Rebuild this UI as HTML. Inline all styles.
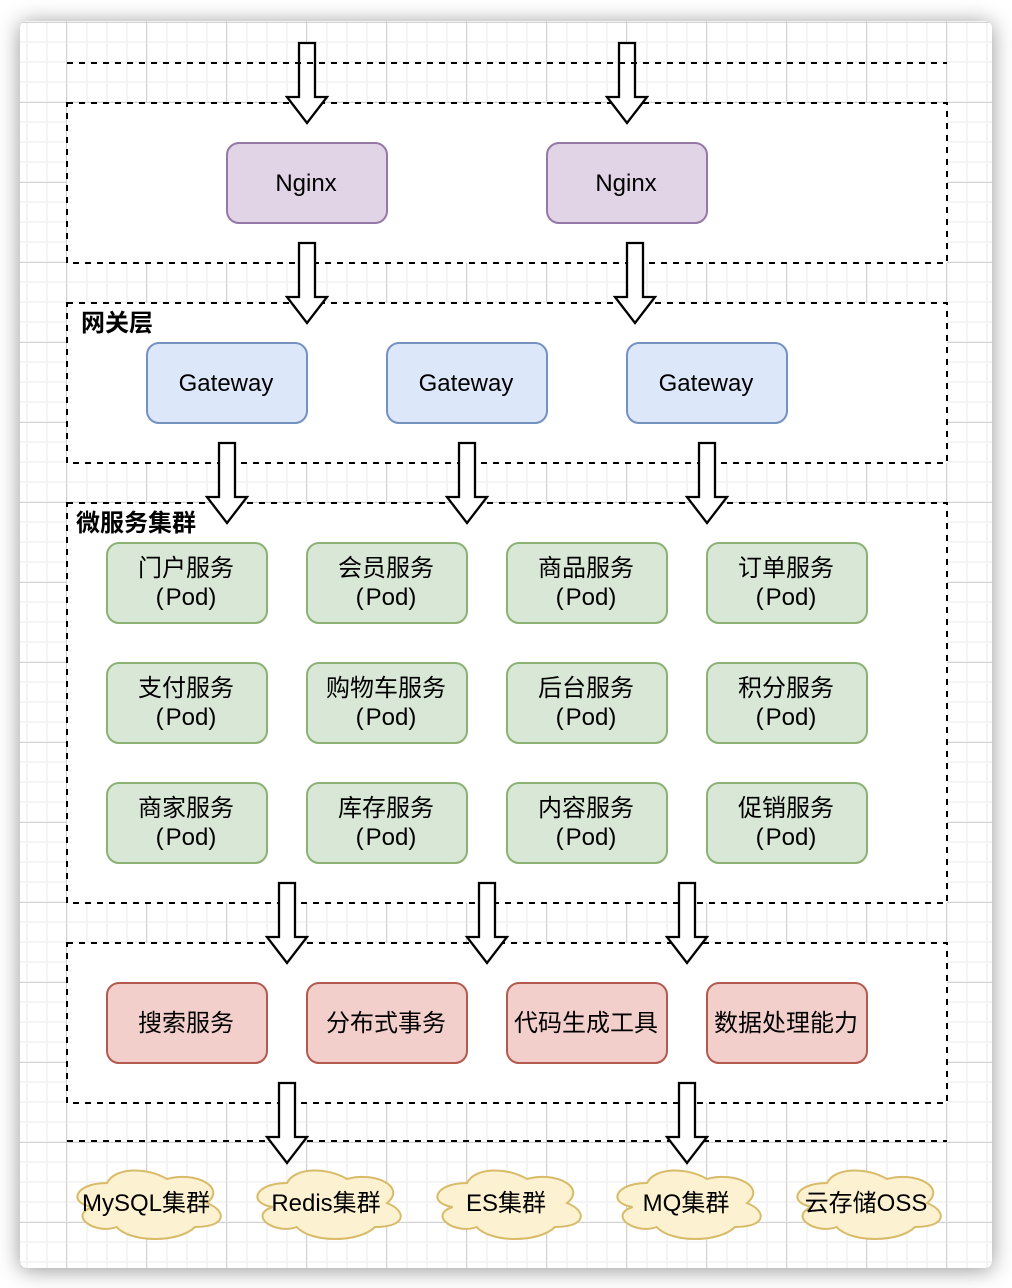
<!DOCTYPE html>
<html>
<head>
<meta charset="utf-8">
<style>
html,body{margin:0;padding:0;background:#fff;width:1012px;height:1288px;overflow:hidden}
#canvas{position:absolute;left:20px;top:21px;width:972px;height:1247px;border-radius:7px;background-color:#fff;
box-shadow:0 2px 22px rgba(0,0,0,.42);
background-image:
linear-gradient(to right,#d2d2d2 1px,transparent 1px),
linear-gradient(to bottom,#d2d2d2 1px,transparent 1px),
linear-gradient(to right,#f4f4f4 2px,transparent 2px),
linear-gradient(to bottom,#f4f4f4 2px,transparent 2px);
background-size:80px 80px,80px 80px,20px 20px,20px 20px;
background-position:46px 0,0 1px,6px 0,0 0;}
svg{position:absolute;left:0;top:0}
text{font-family:"Liberation Sans","Noto Sans CJK SC",sans-serif;font-size:24px;fill:#000;text-anchor:middle}
.c{fill:#fff;stroke:#000;stroke-width:2;stroke-dasharray:6 6}
.l{fill:none;stroke:#000;stroke-width:2;stroke-dasharray:6 6}
.a{fill:#fff;stroke:#000;stroke-width:2.3;stroke-miterlimit:10}
.p{fill:#e0d4e6;stroke:#9479a6;stroke-width:2}
.b{fill:#dce8fa;stroke:#7591c0;stroke-width:2}
.g{fill:#d9e7d6;stroke:#8bb174;stroke-width:2}
.r{fill:#f3cfcc;stroke:#b25a50;stroke-width:2}
.y{fill:#fcf1d0;stroke:#d8bb68;stroke-width:2}
.t{font-weight:bold;text-anchor:start}
</style>
</head>
<body>
<div id="canvas"></div>
<svg width="1012" height="1288" viewBox="0 0 1012 1288" xmlns="http://www.w3.org/2000/svg">
<defs>
<path id="arrow" d="M-8 0H8V54H20L0 80L-20 54H-8Z"/>
<path id="cloud" d="M40 20C8 20 0 40 25.6 44C0 52.8 28.8 72 49.6 64C64 80 112 80 128 64C160 64 160 48 140 40C160 24 128 8 100 16C80 4 48 4 40 20Z"/>
</defs>

<rect class="c" x="67" y="103" width="880" height="160"/>
<rect class="c" x="67" y="303" width="880" height="160"/>
<rect class="c" x="67" y="503" width="880" height="400"/>
<rect class="c" x="67" y="943" width="880" height="160"/>
<path class="l" d="M67 1141H947"/>

<rect class="p" x="227" y="143" width="160" height="80" rx="12"/><text x="306" y="191">Nginx</text>
<rect class="p" x="547" y="143" width="160" height="80" rx="12"/><text x="626" y="191">Nginx</text>

<text class="t" x="81" y="331">网关层</text>
<rect class="b" x="147" y="343" width="160" height="80" rx="12"/><text x="226" y="391">Gateway</text>
<rect class="b" x="387" y="343" width="160" height="80" rx="12"/><text x="466" y="391">Gateway</text>
<rect class="b" x="627" y="343" width="160" height="80" rx="12"/><text x="706" y="391">Gateway</text>

<text class="t" x="76" y="531">微服务集群</text>

<rect class="g" x="107" y="543" width="160" height="80" rx="12"/><text x="186" y="576">门户服务</text><text x="186" y="605">(<tspan dx="2">Pod</tspan>)</text>
<rect class="g" x="307" y="543" width="160" height="80" rx="12"/><text x="386" y="576">会员服务</text><text x="386" y="605">(<tspan dx="2">Pod</tspan>)</text>
<rect class="g" x="507" y="543" width="160" height="80" rx="12"/><text x="586" y="576">商品服务</text><text x="586" y="605">(<tspan dx="2">Pod</tspan>)</text>
<rect class="g" x="707" y="543" width="160" height="80" rx="12"/><text x="786" y="576">订单服务</text><text x="786" y="605">(<tspan dx="2">Pod</tspan>)</text>

<rect class="g" x="107" y="663" width="160" height="80" rx="12"/><text x="186" y="696">支付服务</text><text x="186" y="725">(<tspan dx="2">Pod</tspan>)</text>
<rect class="g" x="307" y="663" width="160" height="80" rx="12"/><text x="386" y="696">购物车服务</text><text x="386" y="725">(<tspan dx="2">Pod</tspan>)</text>
<rect class="g" x="507" y="663" width="160" height="80" rx="12"/><text x="586" y="696">后台服务</text><text x="586" y="725">(<tspan dx="2">Pod</tspan>)</text>
<rect class="g" x="707" y="663" width="160" height="80" rx="12"/><text x="786" y="696">积分服务</text><text x="786" y="725">(<tspan dx="2">Pod</tspan>)</text>

<rect class="g" x="107" y="783" width="160" height="80" rx="12"/><text x="186" y="816">商家服务</text><text x="186" y="845">(<tspan dx="2">Pod</tspan>)</text>
<rect class="g" x="307" y="783" width="160" height="80" rx="12"/><text x="386" y="816">库存服务</text><text x="386" y="845">(<tspan dx="2">Pod</tspan>)</text>
<rect class="g" x="507" y="783" width="160" height="80" rx="12"/><text x="586" y="816">内容服务</text><text x="586" y="845">(<tspan dx="2">Pod</tspan>)</text>
<rect class="g" x="707" y="783" width="160" height="80" rx="12"/><text x="786" y="816">促销服务</text><text x="786" y="845">(<tspan dx="2">Pod</tspan>)</text>

<rect class="r" x="107" y="983" width="160" height="80" rx="12"/><text x="186" y="1031">搜索服务</text>
<rect class="r" x="307" y="983" width="160" height="80" rx="12"/><text x="386" y="1031">分布式事务</text>
<rect class="r" x="507" y="983" width="160" height="80" rx="12"/><text x="586" y="1031">代码生成工具</text>
<rect class="r" x="707" y="983" width="160" height="80" rx="12"/><text x="786" y="1031">数据处理能力</text>

<use class="y" href="#cloud" x="67" y="1163"/><text x="146" y="1211">MySQL集群</text>
<use class="y" href="#cloud" x="247" y="1163"/><text x="326" y="1211">Redis集群</text>
<use class="y" href="#cloud" x="427" y="1163"/><text x="506" y="1211">ES集群</text>
<use class="y" href="#cloud" x="607" y="1163"/><text x="686" y="1211">MQ集群</text>
<use class="y" href="#cloud" x="787" y="1163"/><text x="866" y="1211">云存储OSS</text>

<use class="a" href="#arrow" x="307" y="43"/>
<use class="a" href="#arrow" x="627" y="43"/>
<use class="a" href="#arrow" x="307" y="243"/>
<use class="a" href="#arrow" x="635" y="243"/>
<use class="a" href="#arrow" x="227" y="443"/>
<use class="a" href="#arrow" x="467" y="443"/>
<use class="a" href="#arrow" x="707" y="443"/>
<use class="a" href="#arrow" x="287" y="883"/>
<use class="a" href="#arrow" x="487" y="883"/>
<use class="a" href="#arrow" x="687" y="883"/>
<use class="a" href="#arrow" x="287" y="1083"/>
<use class="a" href="#arrow" x="687" y="1083"/>

<path class="l" d="M67 63H947"/>
</svg>
</body>
</html>
